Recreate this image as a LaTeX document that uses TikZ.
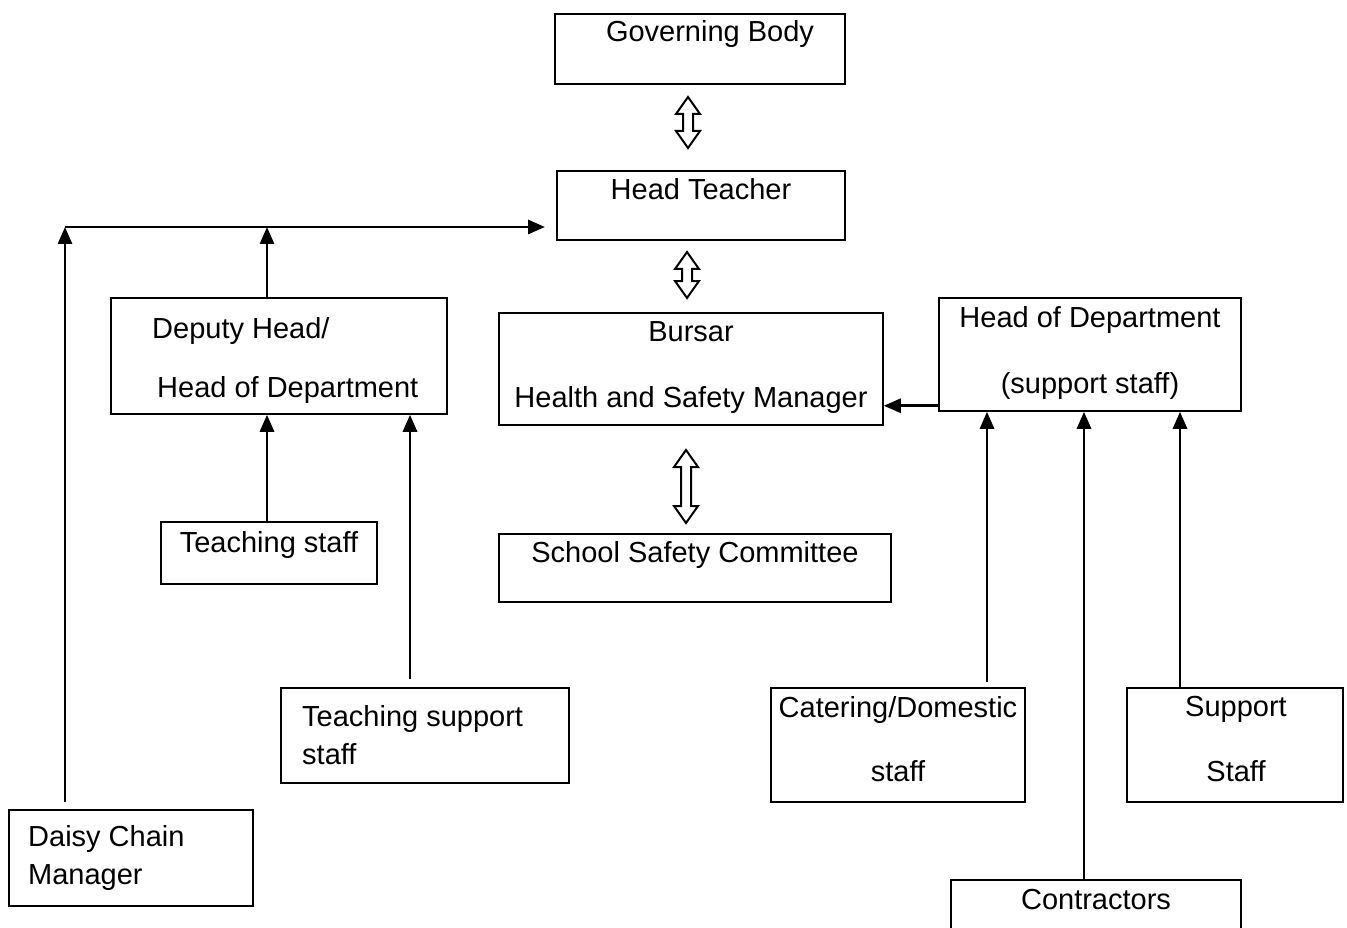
\documentclass[tikz,border=0pt]{standalone}
\usepackage{fontspec}
\setmainfont{Liberation Sans}
\usepackage{tikz}
\usetikzlibrary{arrows.meta}
\tikzset{
  box/.style={draw, line width=1.5pt, inner sep=0pt},
  txt/.style={inner sep=0pt, font=\fontsize{29}{34}\selectfont},
  conn/.style={line width=2.8pt, -{Triangle[length=17pt,width=14pt]}},
  twoway/.style={draw, line width=2pt, line join=miter},
}
% hollow two-way arrow: x, top y, bottom y
\newcommand\twoway[3]{
  \draw[twoway] (#1,#2) -- (#1+12,#2+17) -- (#1+5,#2+17) -- (#1+5,#3-17)
    -- (#1+12,#3-17) -- (#1,#3) -- (#1-12,#3-17) -- (#1-5,#3-17)
    -- (#1-5,#2+17) -- (#1-12,#2+17) -- cycle;
}

\begin{document}
\begin{tikzpicture}[x=1pt, y=-1pt]
  \useasboundingbox (0,0) rectangle (1347,928);
  % boxes
  \node[box, minimum width=290pt, minimum height=70pt] (gov) at (700,49) {};
  \node[box, minimum width=288pt, minimum height=69pt] (head) at (701,205.5) {};
  \node[box, minimum width=336pt, minimum height=116pt] (dep) at (279,356) {};
  \node[box, minimum width=384pt, minimum height=112pt] (bur) at (691,369) {};
  \node[box, minimum width=302pt, minimum height=113pt] (hos) at (1090,354.5) {};
  \node[box, minimum width=216pt, minimum height=62pt] (tstaff) at (269,553) {};
  \node[box, minimum width=392pt, minimum height=68pt] (ssc) at (695,568) {};
  \node[box, minimum width=288pt, minimum height=95pt] (tsup) at (425,735.5) {};
  \node[box, minimum width=254pt, minimum height=114pt] (cat) at (898,745) {};
  \node[box, minimum width=216pt, minimum height=114pt] (sup) at (1235,745) {};
  \node[box, minimum width=244pt, minimum height=96pt] (daisy) at (131,858) {};
  \node[box, minimum width=290pt, minimum height=80pt] (con) at (1096,920) {};
  % texts
  \node[txt] (govt) at (710,34) {Governing Body};
  \node[txt] (headt) at (701,189) {Head Teacher};
  \node[txt, anchor=west] (dept1) at (152,331) {Deputy Head/};
  \node[txt, anchor=west] (dept2) at (157,390) {Head of Department};
  \node[txt] (burt1) at (691,332) {Bursar};
  \node[txt] (burt2) at (691,400) {Health and Safety Manager};
  \node[txt] (host1) at (1090,320) {Head of Department};
  \node[txt] (host2) at (1090,386) {(support staff)};
  \node[txt] (tstafft) at (269,545) {Teaching staff};
  \node[txt] (ssct) at (695,555) {School Safety Committee};
  \node[txt, anchor=west] (tsupt1) at (302,719) {Teaching support};
  \node[txt, anchor=west] (tsupt2) at (302,754) {staff};
  \node[txt] (catt1) at (898,710) {Catering/Domestic};
  \node[txt] (catt2) at (898,771) {staff};
  \node[txt] (supt1) at (1236,709) {Support};
  \node[txt] (supt2) at (1236,771) {Staff};
  \node[txt, anchor=west] (daisyt1) at (28,839) {Daisy Chain};
  \node[txt, anchor=west] (daisyt2) at (28,878) {Manager};
  \node[txt] (cont) at (1096,900) {Contractors};
  % two-way arrows
  \twoway{688}{97}{148}
  \twoway{687}{252}{298}
  \twoway{686}{450}{523}
  % reporting lines
  \coordinate (join) at (65,227);
  \coordinate (daisytop) at (65,802);
  \coordinate (htin) at (545,227);
  \draw[conn] (join) -- (htin);
  \draw[conn] (daisytop) -- (join);
  \draw[conn] ([xshift=-12pt]dep.north) -- ([xshift=-12pt]dep.north |- join);
  \draw[conn] ([xshift=-2pt]tstaff.north) -- ([xshift=-2pt]tstaff.north |- dep.south);
  \draw[conn] ([xshift=-15pt,yshift=8pt]tsup.north) -- ([xshift=-15pt]tsup.north |- dep.south);
  \draw[conn] ([yshift=6pt]hos.south west) -- ([yshift=6pt]hos.south west -| bur.east);
  \draw[conn] ([xshift=89pt,yshift=5pt]cat.north) -- ([xshift=89pt]cat.north |- hos.south);
  \draw[conn] ([xshift=-12pt]con.north) -- ([xshift=-12pt]con.north |- hos.south);
  \draw[conn] ([xshift=-55pt]sup.north) -- ([xshift=-55pt]sup.north |- hos.south);
\end{tikzpicture}
\end{document}
